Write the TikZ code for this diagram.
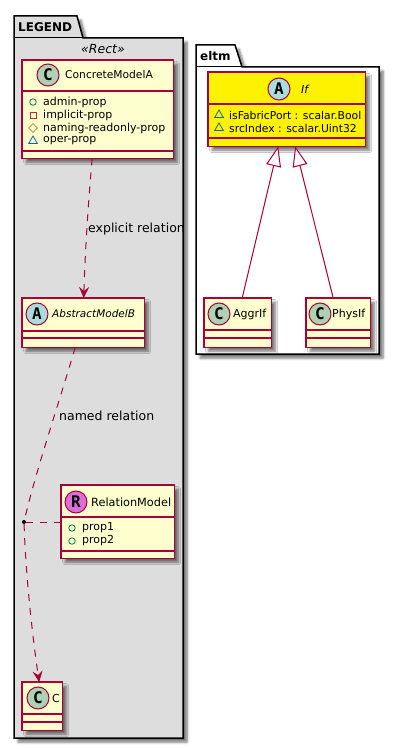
\documentclass[tikz,border=0pt]{standalone}
\usepackage{fontspec}
\setmainfont{DejaVu Sans}
\newfontfamily\spotfont{DejaVu Sans Mono}
\usetikzlibrary{arrows.meta,shapes.geometric,shadows.blur}
\definecolor{umlred}{HTML}{A80036}
\definecolor{classfill}{HTML}{FEFECE}
\definecolor{pkgfill}{HTML}{DDDDDD}
\definecolor{spotC}{HTML}{ADD1B2}
\definecolor{spotA}{HTML}{A9DCDF}
\definecolor{spotR}{HTML}{DA70D6}
\tikzset{
  softshadow/.style={blur shadow={shadow xshift=4pt,shadow yshift=-4pt,shadow blur radius=2.5pt,shadow blur steps=6,shadow opacity=55}},
  pkgbox/.style={draw=black,line width=1.5pt,softshadow},
  classbox/.style={fill=classfill,anchor=north west,inner sep=0pt,softshadow},
  classline/.style={draw=umlred,line width=1.25pt},
  spot/.style={circle,draw=umlred,line width=1pt,minimum size=22pt,inner sep=0pt,font=\fontsize{16}{16}\selectfont\spotfont\bfseries},
  namelabel/.style={anchor=west,inner sep=0pt,font=\fontsize{11}{13}\selectfont},
  attrlabel/.style={anchor=west,inner sep=0pt,font=\fontsize{11}{13}\selectfont},
  linklabel/.style={anchor=west,inner sep=0pt,font=\fontsize{12.5}{14}\selectfont},
  pkglabel/.style={anchor=west,inner sep=0pt,font=\fontsize{12}{14}\selectfont\bfseries},
  pubicon/.style={circle,draw={rgb,255:red,3;green,128;blue,72},line width=.8pt,minimum size=6.5pt,inner sep=0pt},
  priicon/.style={rectangle,draw={rgb,255:red,200;green,41;blue,48},line width=.8pt,minimum size=6pt,inner sep=0pt},
  proicon/.style={diamond,draw={rgb,255:red,179;green,141;blue,34},line width=.8pt,minimum size=9pt,inner sep=0pt},
  pkgicon/.style={regular polygon,regular polygon sides=3,draw={rgb,255:red,25;green,99;blue,160},line width=.8pt,minimum size=10pt,inner sep=0pt},
  dashlink/.style={draw=umlred,line width=1pt,dash pattern=on 7pt off 7pt},
  deplink/.style={dashlink,-{Stealth[length=11pt,width=10pt,inset=4pt]}},
  genlink/.style={draw=umlred,line width=1pt,{Triangle[open,fill=white,length=20pt,width=15pt]}-},
}
\begin{document}
\begin{tikzpicture}[x=1pt,y=-1pt]
\useasboundingbox (0,0) rectangle (400,749);
% packages
\draw[pkgbox,fill=pkgfill] (14,38) -- (14,16) -- (77,16) -- (83,38) -- (183,38) -- (183,738) -- (14,738) -- cycle;
\draw[line width=1pt] (14,38) -- (83,38);
\node[pkglabel] (legendname) at (18,27) {LEGEND};
\node[inner sep=0pt,font=\fontsize{12.5}{14}\selectfont\itshape] (rectname) at (103,49) {«Rect»};
\draw[pkgbox,fill=white] (196,67) -- (196,45) -- (235,45) -- (242,67) -- (379,67) -- (379,354) -- (196,354) -- cycle;
\draw[line width=1pt] (196,67) -- (242,67);
\node[pkglabel] (eltmname) at (200,56) {eltm};
% classes
\node[classbox,minimum width=151pt,minimum height=98pt] (ConcreteModelA) at (22,60) {};
\draw[classline] (ConcreteModelA.north west) rectangle (ConcreteModelA.south east);
\draw[classline] (22,91) -- (173,91);
\draw[classline] (22,151) -- (173,151);
\node[spot,fill=spotC] (spotmodela) at (48,75) {C};
\node[namelabel,font=\fontsize{10.7}{13}\selectfont] (namemodela) at (65,75) {ConcreteModelA};
\node[pubicon] (iconadmin) at (33,102) {};
\node[attrlabel] (attradmin) at (43,102) {admin-prop};
\node[priicon] (iconimplicit) at (33,115) {};
\node[attrlabel] (attrimplicit) at (43,115) {implicit-prop};
\node[proicon] (iconnaming) at (33,128) {};
\node[attrlabel] (attrnaming) at (43,128) {naming-readonly-prop};
\node[pkgicon] (iconoper) at (33,141) {};
\node[attrlabel] (attroper) at (43,141) {oper-prop};

\node[classbox,minimum width=122pt,minimum height=49pt] (AbstractModelB) at (22,298) {};
\draw[classline] (AbstractModelB.north west) rectangle (AbstractModelB.south east);
\draw[classline] (22,331) -- (144,331);
\draw[classline] (22,338) -- (144,338);
\node[spot,fill=spotA] (spotmodelb) at (37,314) {A};
\node[namelabel,font=\fontsize{10.5}{13}\selectfont\itshape] (namemodelb) at (52,314) {AbstractModelB};

\node[classbox,minimum width=113pt,minimum height=73pt] (RelationModel) at (61,485) {};
\draw[classline] (RelationModel.north west) rectangle (RelationModel.south east);
\draw[classline] (61,517) -- (174,517);
\draw[classline] (61,551) -- (174,551);
\node[spot,fill=spotR] (spotrelation) at (76,502) {R};
\node[namelabel,font=\fontsize{11.3}{13}\selectfont] (namerelation) at (91,502) {RelationModel};
\node[pubicon] (iconprop1) at (72,528) {};
\node[attrlabel] (attrprop1) at (82,528) {prop1};
\node[pubicon] (iconprop2) at (72,541) {};
\node[attrlabel] (attrprop2) at (82,541) {prop2};

\node[classbox,minimum width=40pt,minimum height=48pt] (ModelC) at (22,682) {};
\draw[classline] (ModelC.north west) rectangle (ModelC.south east);
\draw[classline] (22,714) -- (62,714);
\draw[classline] (22,722) -- (62,722);
\node[spot,fill=spotC] (spotmodelc) at (38,698) {C};
\node[namelabel] (namemodelc) at (52,698) {C};

\node[classbox,fill=yellow,minimum width=157pt,minimum height=74pt] (If) at (208,72) {};
\draw[classline] (If.north west) rectangle (If.south east);
\draw[classline] (208,104) -- (365,104);
\draw[classline] (208,138) -- (365,138);
\node[spot,fill=spotA] (spotif) at (279,89) {A};
\node[namelabel,font=\fontsize{11}{13}\selectfont\itshape] (nameif) at (301,89) {If};
\node[pkgicon] (iconfabric) at (219,115) {};
\node[attrlabel,font=\fontsize{10.8}{13}\selectfont] (attrfabric) at (229,115) {isFabricPort : scalar.Bool};
\node[pkgicon] (iconsrc) at (219,128) {};
\node[attrlabel,font=\fontsize{10.8}{13}\selectfont] (attrsrc) at (229,128) {srcIndex : scalar.Uint32};

\node[classbox,minimum width=67pt,minimum height=49pt] (AggrIf) at (204,298) {};
\draw[classline] (AggrIf.north west) rectangle (AggrIf.south east);
\draw[classline] (204,330) -- (271,330);
\draw[classline] (204,338) -- (271,338);
\node[spot,fill=spotC] (spotaggr) at (219,314) {C};
\node[namelabel] (nameaggr) at (233,314) {AggrIf};

\node[classbox,minimum width=64pt,minimum height=49pt] (PhysIf) at (306,298) {};
\draw[classline] (PhysIf.north west) rectangle (PhysIf.south east);
\draw[classline] (306,330) -- (370,330);
\draw[classline] (306,338) -- (370,338);
\node[spot,fill=spotC] (spotphys) at (320,314) {C};
\node[namelabel] (namephys) at (332,314) {PhysIf};
% relations
\node[circle,fill=black,minimum size=4pt,inner sep=0pt] (reldot) at (24,522) {};
\draw[deplink] ([xshift=-5.5pt]ConcreteModelA.south) .. controls (88,205) and (85,255) .. ([xshift=0.5pt]AbstractModelB.north);
\node[linklabel] (explicitlabel) at (88,229) {explicit relation};
\draw[dashlink] ([xshift=-8pt]AbstractModelB.south) .. controls (60,400) and (36,470) .. (reldot);
\node[linklabel] (namedlabel) at (59,416) {named relation};
\draw[deplink] (reldot) .. controls (26,580) and (33,640) .. ([xshift=-3pt]ModelC.north);
\draw[dashlink] (reldot) -- (reldot -| RelationModel.west);
\draw[genlink] ([xshift=-8.5pt]If.south) -- ([xshift=4.5pt]AggrIf.north);
\draw[genlink] ([xshift=8.5pt]If.south) -- ([xshift=-5pt]PhysIf.north);
\end{tikzpicture}
\end{document}
